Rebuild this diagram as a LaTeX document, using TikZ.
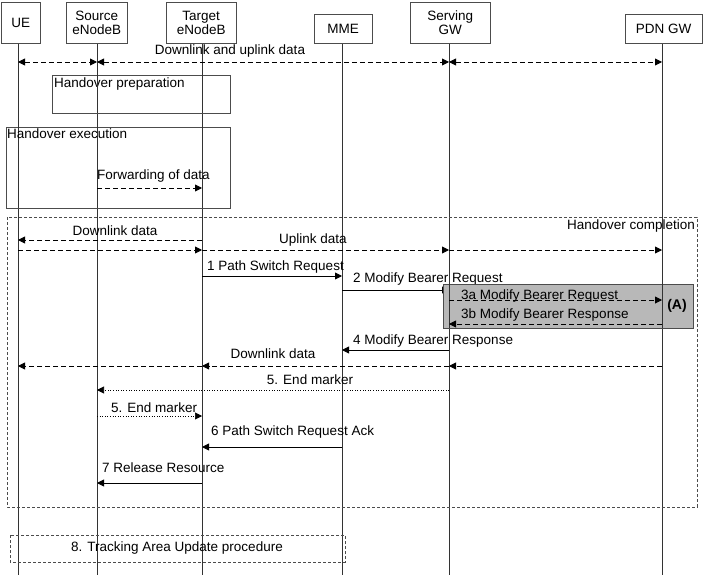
\documentclass[tikz,border=0pt]{standalone}
\usepackage{fontspec}
\setmainfont{Liberation Sans}
\usetikzlibrary{arrows.meta,calc}
\begin{document}
\begin{tikzpicture}[x=1pt,y=-1pt,font=\fontsize{13.5pt}{14.5pt}\selectfont,
  ent/.style={draw=black!70,fill=white,align=center,inner sep=0pt,anchor=north west,font=\fontsize{13.5pt}{14pt}\selectfont},
  life/.style={draw=black!80,line width=0.5pt},
  msg/.style={-{Triangle[length=7pt,width=7pt]},line width=0.9pt},
  dmsg/.style={msg,dash pattern=on 5pt off 3pt},
  dbl/.style={{Triangle[length=7pt,width=7pt]}-{Triangle[length=7pt,width=7pt]},line width=0.9pt,dash pattern=on 5pt off 3pt},
  omsg/.style={msg,line width=0.6pt,dotted},
  lbl/.style={inner sep=1pt},
  frame/.style={draw=black!70,line width=0.5pt}]
\useasboundingbox (0,0) rectangle (703,580);
% lifelines
\foreach \n/\x in {ue/18,src/97,tgt/202,mme/342,sgw/449,pdn/662}{\coordinate (\n) at (\x,0); \draw[life] (\x,43) -- (\x,575);}
% entity boxes
\node[ent,minimum width=39pt,minimum height=41pt] (bue) at (1,2) {UE};
\node[ent,minimum width=61pt,minimum height=41pt] (bsrc) at (66,2) {Source\\eNodeB};
\node[ent,minimum width=70pt,minimum height=41pt] (btgt) at (166,2) {Target\\eNodeB};
\node[ent,minimum width=58pt,minimum height=29pt] (bmme) at (314,14) {MME};
\node[ent,minimum width=80pt,minimum height=41pt] (bsgw) at (410,2) {Serving\\GW};
\node[ent,minimum width=77pt,minimum height=29pt] (bpdn) at (625,14) {PDN GW};
% data
\draw[dbl] (ue|-0,62) -- (src|-0,62);
\draw[dbl] (src|-0,62) -- (sgw|-0,62);
\draw[dbl] (sgw|-0,62) -- (pdn|-0,62);
\node[lbl] (t0) at (230,51) {Downlink and uplink data};
% handover preparation
\draw[frame,fill=white] (52,75) rectangle (230,113);
\node[lbl,anchor=north west] (hp) at (53,77) {Handover preparation};
\draw[frame,fill=white] (6,127) rectangle (230,208);
\draw[life] (18,127) -- (18,208); \draw[life] (97,127) -- (97,208); \draw[life] (202,127) -- (202,208);
\draw[life] (97,75) -- (97,113); \draw[life] (202,75) -- (202,113);
\node[lbl,anchor=north west] (hx) at (6,128) {Handover execution};
\node[lbl,anchor=south west] (fw) at (96,184) {Forwarding of data};
\draw[dmsg] (src|-0,188) -- (tgt|-0,188);
% completion frame
\draw[frame,dash pattern=on 3pt off 2pt] (7,217) rectangle (697,507);
\node[lbl,anchor=north east] (hc) at (696,219) {Handover completion};
\node[lbl] (dl1) at (115,231) {Downlink data};
\draw[dmsg] (tgt|-0,240) -- (ue|-0,240);
\node[lbl] (ul) at (313,240) {Uplink data};
\draw[dmsg] (ue|-0,250) -- (tgt|-0,250);
\draw[dmsg] (tgt|-0,250) -- (sgw|-0,250);
\draw[dmsg] (sgw|-0,250) -- (pdn|-0,250);
\node[lbl,anchor=west] (m1) at (206,267) {1 Path Switch Request};
\draw[msg] (tgt|-0,276) -- (mme|-0,276);
\node[lbl,anchor=west] (m2) at (352,279) {2 Modify Bearer Request};
\draw[msg] (mme|-0,290) -- (sgw|-0,290);
% gray box
\draw[draw=black!70,fill=black!28] (443,284) rectangle (693,328);
\draw[life] (449,284) -- (449,328); \draw[life] (662,284) -- (662,328);
\node[lbl,anchor=west] (m3a) at (460,296) {3a Modify Bearer Request};
\draw[dmsg] (sgw|-0,300) -- (pdn|-0,300);
\node[lbl,font=\fontsize{14pt}{15pt}\selectfont\bfseries] (A) at (677,306) {(A)};
\node[lbl,anchor=west] (m3b) at (460,315) {3b Modify Bearer Response};
\draw[dmsg] (pdn|-0,324) -- (sgw|-0,324);
\node[lbl,anchor=west] (m4) at (352,341) {4 Modify Bearer Response};
\draw[msg] (sgw|-0,350) -- (mme|-0,350);
\node[lbl] (dl2) at (273,354) {Downlink data};
\draw[dmsg] (pdn|-0,366) -- (sgw|-0,366);
\draw[dmsg] (sgw|-0,366) -- (tgt|-0,366);
\draw[dmsg] (tgt|-0,366) -- (ue|-0,366);
\node[lbl] (e1) at (310,380) {5. End marker};
\draw[omsg] (sgw|-0,390) -- (src|-0,390);
\node[lbl,anchor=west] (e2) at (110,408) {5. End marker};
\draw[omsg] (src|-0,416) -- (tgt|-0,416);
\node[lbl,anchor=west] (m6) at (210,432) {6 Path Switch Request Ack};
\draw[msg] (mme|-0,447) -- (tgt|-0,447);
\node[lbl,anchor=west] (m7) at (101,468) {7 Release Resource};
\draw[msg] (tgt|-0,483) -- (src|-0,483);
% TAU
\draw[frame,dash pattern=on 3pt off 2pt] (10,535) rectangle (345,562);
\node[lbl] (tau) at (177,548) {8. Tracking Area Update procedure};
\end{tikzpicture}
\end{document}
